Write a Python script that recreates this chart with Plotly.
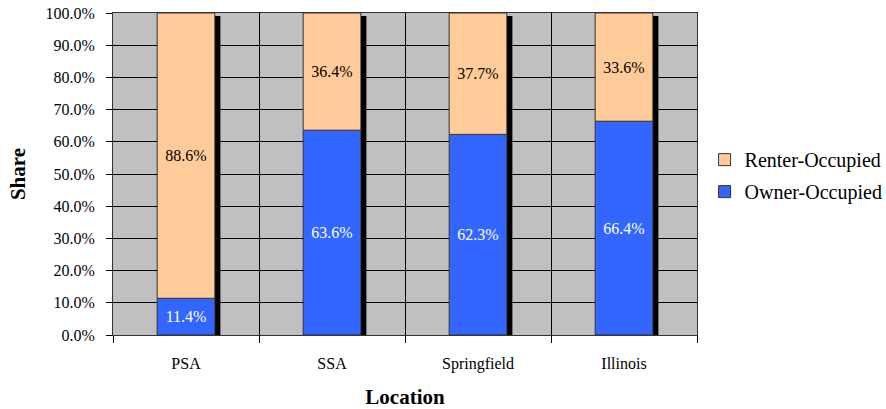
import plotly.graph_objects as go

# Housing tenure share by location
locations = ["PSA", "SSA", "Springfield", "Illinois"]
owner_share = [11.4, 63.6, 62.3, 66.4]
renter_share = [88.6, 36.4, 37.7, 33.6]

FONT = "Liberation Serif"
BAR_W = 0.395
SHADOW_W = 0.038
SHADOW_DROP = 0.9  # shadow starts slightly below the bar top

totals = [o + r for o, r in zip(owner_share, renter_share)]

fig = go.Figure()

# drop shadow to the right of each column
fig.add_trace(go.Bar(
    x=locations, y=[t - SHADOW_DROP for t in totals],
    width=SHADOW_W, offset=BAR_W / 2,
    marker=dict(color="#000000", line=dict(width=0)),
    showlegend=False, hoverinfo="skip",
))

fig.add_trace(go.Bar(
    name="Owner-Occupied", x=locations, y=owner_share,
    legendgroup="owner", legendrank=2,
    width=BAR_W, offset=-BAR_W / 2,
    marker=dict(color="#3366FF", line=dict(color="#333333", width=1)),
    text=[f"{v:.1f}%" for v in owner_share],
    textposition="inside", insidetextanchor="middle",
    textfont=dict(family=FONT, size=16, color="#FFFFFF"),
    textangle=0,
))

fig.add_trace(go.Bar(
    name="Renter-Occupied", x=locations, y=renter_share, base=owner_share,
    legendgroup="renter", legendrank=1,
    width=BAR_W, offset=-BAR_W / 2,
    marker=dict(color="#FFCC99", line=dict(color="#333333", width=1)),
    text=[f"{v:.1f}%" for v in renter_share],
    textposition="inside", insidetextanchor="middle",
    textfont=dict(family=FONT, size=16, color="#000000"),
    textangle=0,
))

fig.update_layout(
    width=886, height=409,
    barmode="overlay",
    paper_bgcolor="#FFFFFF",
    plot_bgcolor="#C0C0C0",
    margin=dict(l=113, r=189, t=13, b=74, autoexpand=False),
    font=dict(family=FONT, size=16, color="#000000"),
    showlegend=True,
    legend=dict(
        x=1.013, xanchor="left", y=0.495, yanchor="middle",
        xref="paper", yref="paper",
        font=dict(family=FONT, size=20, color="#000000"),
        traceorder="grouped",
        tracegroupgap=3,
        bgcolor="rgba(0,0,0,0)",
    ),
    xaxis=dict(
        type="category",
        tickson="boundaries",
        showgrid=True, gridcolor="#000000", gridwidth=1,
        ticks="outside", ticklen=7, tickcolor="#000000",
        showline=True, linecolor="#333333", linewidth=1, mirror=True,
        ticklabelstandoff=14,
        tickfont=dict(family=FONT, size=16),
        automargin=False,
        title=dict(text="<b>Location</b>", font=dict(family=FONT, size=21), standoff=18),
    ),
    yaxis=dict(
        range=[0, 100], dtick=10, tick0=0,
        tickformat=".1f", ticksuffix="%",
        showgrid=True, gridcolor="#000000", gridwidth=1,
        ticks="outside", ticklen=6, tickcolor="#000000",
        showline=True, linecolor="#333333", linewidth=1, mirror=True,
        zeroline=False,
        ticklabelstandoff=8,
        tickfont=dict(family=FONT, size=16),
        automargin=False,
        title=dict(text="<b>Share</b>", font=dict(family=FONT, size=21), standoff=14),
    ),
)

fig.write_html("out.html")
